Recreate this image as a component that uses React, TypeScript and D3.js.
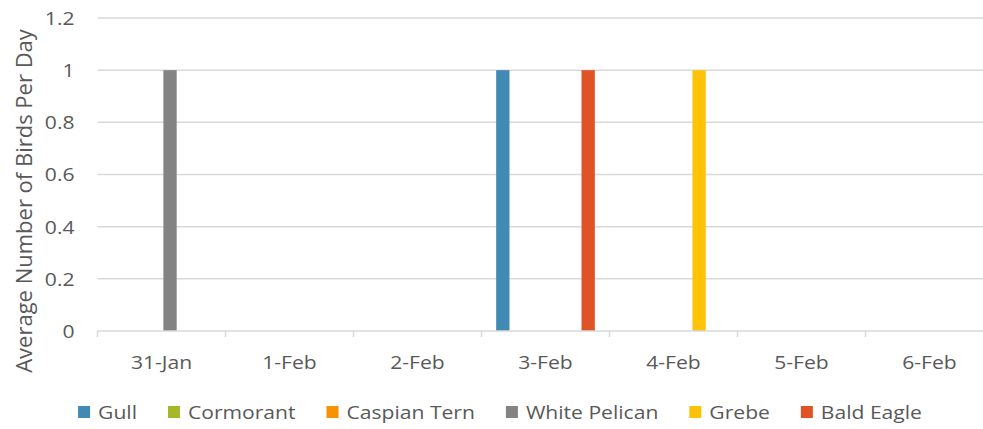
import React, { useEffect, useRef } from 'react';
import * as d3 from 'd3';

const categories = ['31-Jan', '1-Feb', '2-Feb', '3-Feb', '4-Feb', '5-Feb', '6-Feb'];
const seriesNames = ['Gull', 'Cormorant', 'Caspian Tern', 'White Pelican', 'Grebe', 'Bald Eagle'];
const seriesColors = ['#418AB3', '#A6B727', '#F69200', '#838383', '#FEC306', '#DF5327'];
const gull = [0, 0, 0, 1, 0, 0, 0];
const cormorant = [0, 0, 0, 0, 0, 0, 0];
const caspianTern = [0, 0, 0, 0, 0, 0, 0];
const whitePelican = [1, 0, 0, 0, 0, 0, 0];
const grebe = [0, 0, 0, 0, 1, 0, 0];
const baldEagle = [0, 0, 0, 1, 0, 0, 0];
const yTicks = [0, 0.2, 0.4, 0.6, 0.8, 1, 1.2];
const yTitle = 'Average Number of Birds Per Day';

const seriesValues = [gull, cormorant, caspianTern, whitePelican, grebe, baldEagle];

const FONT = '"Open Sans", "DejaVu Sans", sans-serif';
const TEXT = '#595959';
// the source picture is a little wider than tall, so text gets stretched sideways
const SX = 1.11;
const FS = 19;

const App: React.FC = () => {
  const svgRef = useRef<SVGSVGElement>(null);

  useEffect(() => {
    document.body.style.margin = '0';
    if (!svgRef.current) return;
    const svg = d3.select(svgRef.current);
    svg.selectAll('*').remove();

    const left = 97.5;
    const right = 993.5;
    const top = 18;
    const bottom = 331;

    const x0 = d3.scaleBand<string>().domain(categories).range([left, right]).padding(0);
    const x1 = d3
      .scaleBand<string>()
      .domain(seriesNames)
      .range([0, x0.bandwidth()])
      .paddingInner(0.22)
      .paddingOuter(0.86);
    const y = d3.scaleLinear().domain([0, 1.2]).range([bottom, top]);

    // gridlines
    svg
      .append('g')
      .selectAll('line')
      .data(yTicks.filter((t) => t > 0))
      .enter()
      .append('line')
      .attr('x1', left)
      .attr('x2', right)
      .attr('y1', (d) => y(d))
      .attr('y2', (d) => y(d))
      .attr('stroke', '#d9d9d9')
      .attr('stroke-width', 1.5);

    // y labels
    svg
      .append('g')
      .selectAll('text')
      .data(yTicks)
      .enter()
      .append('text')
      .attr('transform', (d) => `translate(74.5,${y(d)}) scale(${SX},1)`)
      .attr('dy', '0.36em')
      .attr('text-anchor', 'end')
      .attr('font-family', FONT)
      .attr('font-size', FS)
      .attr('fill', TEXT)
      .text((d) => String(d));

    // bars
    const groups = svg
      .append('g')
      .selectAll('g')
      .data(seriesNames)
      .enter()
      .append('g')
      .attr('fill', (_, i) => seriesColors[i]);
    groups
      .selectAll('rect')
      .data((name, i) => seriesValues[i].map((v, j) => ({ name, v, cat: categories[j] })))
      .enter()
      .append('rect')
      .attr('x', (d) => (x0(d.cat) || 0) + (x1(d.name) || 0))
      .attr('width', x1.bandwidth())
      .attr('y', (d) => y(d.v))
      .attr('height', (d) => y(0) - y(d.v));

    // x axis
    const ax = svg.append('g').attr('stroke', '#d9d9d9').attr('stroke-width', 1.5);
    ax.append('line').attr('x1', left).attr('x2', right).attr('y1', bottom).attr('y2', bottom);
    ax.selectAll('.tick')
      .data(categories.concat(['end']))
      .enter()
      .append('line')
      .attr('x1', (d, i) => (i < categories.length ? x0(d) || 0 : right))
      .attr('x2', (d, i) => (i < categories.length ? x0(d) || 0 : right))
      .attr('y1', bottom)
      .attr('y2', bottom + 6);

    svg
      .append('g')
      .selectAll('text')
      .data(categories)
      .enter()
      .append('text')
      .attr('transform', (d) => `translate(${(x0(d) || 0) + x0.bandwidth() / 2},362) scale(${SX},1)`)
      .attr('dy', '0.36em')
      .attr('text-anchor', 'middle')
      .attr('font-family', FONT)
      .attr('font-size', FS)
      .attr('fill', TEXT)
      .text((d) => d);

    // y title
    svg
      .append('text')
      .attr('transform', `translate(24,201) rotate(-90)`)
      .attr('dy', '0.36em')
      .attr('text-anchor', 'middle')
      .attr('font-family', FONT)
      .attr('font-size', 22)
      .attr('fill', TEXT)
      .text(yTitle);

    // legend
    const legend = svg.append('g');
    const items = legend.selectAll('g').data(seriesNames).enter().append('g');
    items
      .append('rect')
      .attr('width', 12)
      .attr('height', 12)
      .attr('y', -6)
      .attr('fill', (_, i) => seriesColors[i]);
    const labels = items
      .append('text')
      .attr('transform', `translate(20,0) scale(${SX},1)`)
      .attr('dy', '0.36em')
      .attr('font-family', FONT)
      .attr('font-size', FS)
      .attr('fill', TEXT)
      .text((d) => d);
    const widths: number[] = [];
    labels.each(function () {
      widths.push((this as SVGTextElement).getComputedTextLength() * SX);
    });
    const gap = 31;
    const total = d3.sum(widths, (w) => w + 20) + gap * (widths.length - 1);
    let cx = 500 - total / 2;
    items.attr('transform', (_, i) => {
      const t = `translate(${cx},412)`;
      cx += widths[i] + 20 + gap;
      return t;
    });
  }, []);

  return <svg ref={svgRef} width={983} height={429} style={{ display: 'block' }} />;
};

export default App;
